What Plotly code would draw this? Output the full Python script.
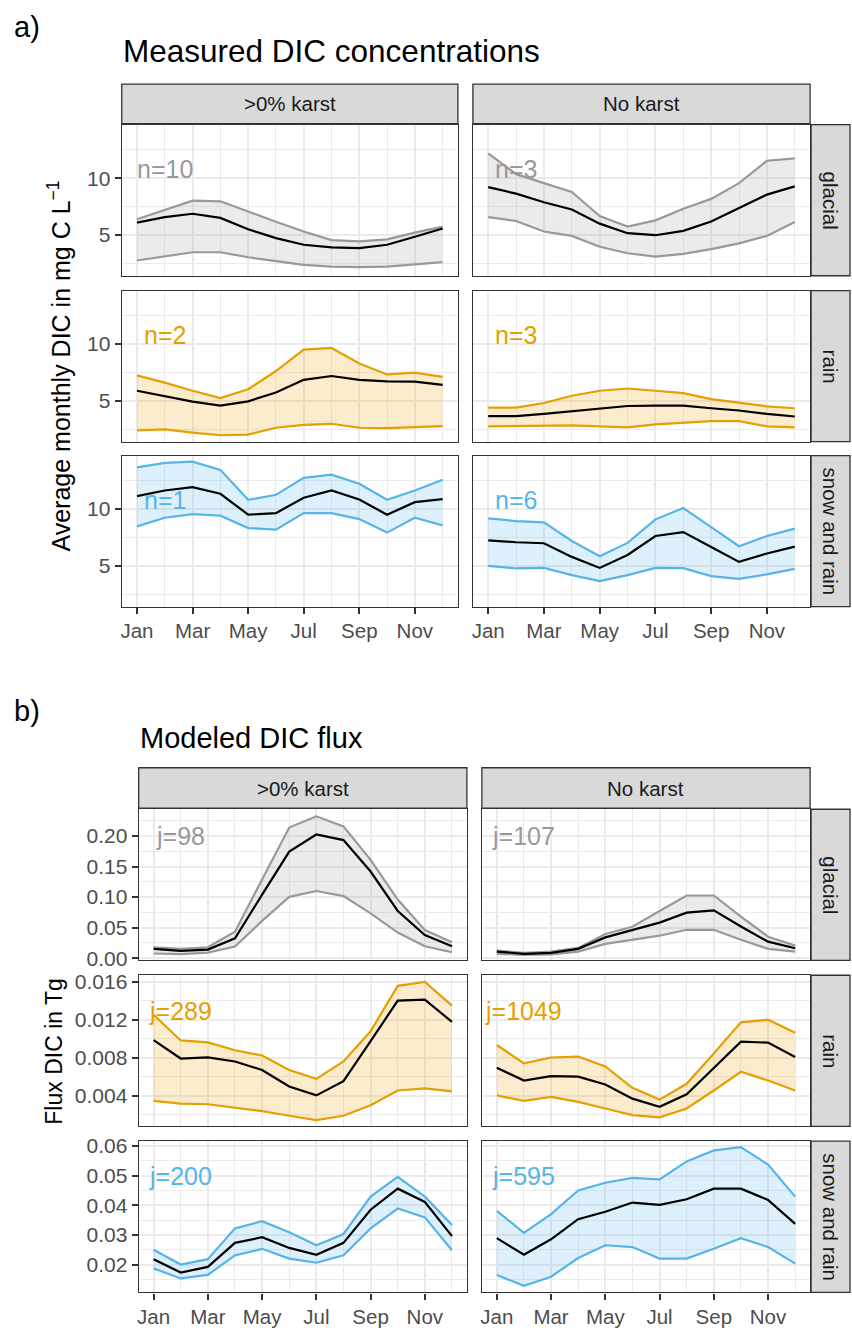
import plotly.graph_objects as go

W, H = 852, 1333
FONT = "Liberation Sans, Arial, sans-serif"
GRID = "#EBEBEB"
BORDER = "#333333"

# ---------------- categories ----------------
months = list(range(1, 13))
month_tick_vals = [1, 3, 5, 7, 9, 11]
month_tick_text = ["Jan", "Mar", "May", "Jul", "Sep", "Nov"]
karst_groups = [">0% karst", "No karst"]
climate_groups = ["glacial", "rain", "snow and rain"]
group_colors = ["#999999", "#E69F00", "#56B4E9"]
group_fills = ["rgba(153,153,153,0.2)", "rgba(230,159,0,0.2)", "rgba(86,180,233,0.2)"]

# ---------------- a) measured DIC concentrations (mg C L-1) ----------------
conc_glacial_karst_upper = [6.37, 7.18, 8.02, 7.96, 7.04, 6.16, 5.30, 4.54, 4.42, 4.60, 5.20, 5.73]
conc_glacial_karst_mean = [6.08, 6.57, 6.86, 6.50, 5.50, 4.71, 4.13, 3.90, 3.84, 4.13, 4.83, 5.56]
conc_glacial_karst_lower = [2.74, 3.08, 3.47, 3.47, 3.03, 2.68, 2.36, 2.21, 2.16, 2.21, 2.39, 2.60]

conc_glacial_nokarst_upper = [12.18, 10.35, 9.56, 8.78, 6.66, 5.73, 6.28, 7.30, 8.17, 9.56, 11.53, 11.74]
conc_glacial_nokarst_mean = [9.21, 8.63, 7.88, 7.24, 5.99, 5.15, 4.97, 5.35, 6.17, 7.39, 8.55, 9.27]
conc_glacial_nokarst_lower = [6.57, 6.22, 5.30, 4.91, 3.95, 3.38, 3.08, 3.32, 3.75, 4.25, 4.91, 6.13]

conc_rain_karst_upper = [7.25, 6.61, 5.89, 5.24, 6.03, 7.63, 9.51, 9.66, 8.29, 7.33, 7.48, 7.11]
conc_rain_karst_mean = [5.89, 5.39, 4.93, 4.58, 4.96, 5.74, 6.85, 7.19, 6.85, 6.72, 6.70, 6.41]
conc_rain_karst_lower = [2.40, 2.49, 2.20, 1.97, 2.02, 2.63, 2.89, 2.98, 2.63, 2.60, 2.69, 2.78]

conc_rain_nokarst_upper = [4.41, 4.41, 4.81, 5.45, 5.89, 6.09, 5.89, 5.68, 5.16, 4.87, 4.52, 4.35]
conc_rain_nokarst_mean = [3.65, 3.65, 3.85, 4.09, 4.32, 4.55, 4.58, 4.58, 4.35, 4.15, 3.85, 3.62]
conc_rain_nokarst_lower = [2.75, 2.78, 2.84, 2.84, 2.75, 2.66, 2.93, 3.07, 3.21, 3.21, 2.75, 2.66]

conc_snow_karst_upper = [13.68, 14.07, 14.18, 13.46, 10.82, 11.26, 12.75, 13.04, 12.23, 10.82, 11.64, 12.58]
conc_snow_karst_mean = [11.14, 11.64, 11.93, 11.35, 9.51, 9.65, 11.00, 11.64, 10.85, 9.51, 10.61, 10.88]
conc_snow_karst_lower = [8.48, 9.24, 9.56, 9.42, 8.33, 8.19, 9.65, 9.65, 9.12, 7.93, 9.24, 8.57]

conc_snow_nokarst_upper = [9.18, 8.95, 8.83, 7.19, 5.85, 7.02, 9.10, 10.09, 8.42, 6.73, 7.63, 8.28]
conc_snow_nokarst_mean = [7.25, 7.08, 6.99, 5.79, 4.82, 5.96, 7.63, 7.98, 6.67, 5.35, 6.09, 6.70]
conc_snow_nokarst_lower = [5.00, 4.77, 4.82, 4.18, 3.66, 4.18, 4.82, 4.80, 4.10, 3.86, 4.25, 4.74]

conc_n_karst = [10, 2, 1]
conc_n_nokarst = [3, 3, 6]

# ---------------- b) modeled DIC flux (Tg) ----------------
flux_glacial_karst_upper = [0.0178, 0.0152, 0.0178, 0.0433, 0.129, 0.214, 0.2324, 0.216, 0.161, 0.096, 0.046, 0.026]
flux_glacial_karst_mean = [0.0152, 0.0120, 0.0140, 0.0324, 0.104, 0.1746, 0.2026, 0.1935, 0.142, 0.0773, 0.038, 0.0195]
flux_glacial_karst_lower = [0.0076, 0.0065, 0.0092, 0.0190, 0.061, 0.1005, 0.110, 0.1016, 0.0735, 0.042, 0.0195, 0.0097]

flux_glacial_nokarst_upper = [0.0125, 0.0087, 0.0108, 0.0168, 0.0395, 0.0514, 0.0773, 0.1027, 0.1027, 0.068, 0.0352, 0.0206]
flux_glacial_nokarst_mean = [0.0108, 0.0071, 0.0087, 0.0152, 0.0340, 0.0465, 0.0583, 0.0746, 0.0784, 0.0519, 0.0270, 0.0162]
flux_glacial_nokarst_lower = [0.0071, 0.0055, 0.0060, 0.0108, 0.0233, 0.0303, 0.0368, 0.0465, 0.0465, 0.0303, 0.0152, 0.0108]

flux_rain_karst_upper = [0.01254, 0.00984, 0.00964, 0.00881, 0.00826, 0.00673, 0.00580, 0.00763, 0.01081, 0.01558, 0.01600, 0.01351]
flux_rain_karst_mean = [0.00988, 0.00794, 0.00805, 0.00763, 0.00673, 0.00500, 0.00406, 0.00556, 0.00977, 0.01403, 0.01413, 0.01179]
flux_rain_karst_lower = [0.00348, 0.00320, 0.00313, 0.00279, 0.00240, 0.00192, 0.00147, 0.00192, 0.00302, 0.00458, 0.00479, 0.00448]

flux_rain_nokarst_upper = [0.00936, 0.00743, 0.00805, 0.00815, 0.00711, 0.00486, 0.00362, 0.00528, 0.00846, 0.01174, 0.01202, 0.01064]
flux_rain_nokarst_mean = [0.00697, 0.00562, 0.00608, 0.00604, 0.00520, 0.00372, 0.00286, 0.00417, 0.00694, 0.00971, 0.00961, 0.00811]
flux_rain_nokarst_lower = [0.00406, 0.00348, 0.00390, 0.00338, 0.00268, 0.00199, 0.00175, 0.00268, 0.00458, 0.00655, 0.00562, 0.00458]

flux_snow_karst_upper = [0.0250, 0.0200, 0.0218, 0.0322, 0.0346, 0.0309, 0.0265, 0.0303, 0.0429, 0.0496, 0.0429, 0.0333]
flux_snow_karst_mean = [0.0218, 0.0173, 0.0192, 0.0273, 0.0292, 0.0256, 0.0233, 0.0273, 0.0385, 0.0456, 0.0411, 0.0296]
flux_snow_karst_lower = [0.0187, 0.0153, 0.0165, 0.0231, 0.0253, 0.0220, 0.0206, 0.0231, 0.0322, 0.0389, 0.0359, 0.0248]

flux_snow_nokarst_upper = [0.0381, 0.0307, 0.0370, 0.0450, 0.0476, 0.0492, 0.0487, 0.0548, 0.0585, 0.0596, 0.0537, 0.0429]
flux_snow_nokarst_mean = [0.0289, 0.0233, 0.0285, 0.0353, 0.0378, 0.0409, 0.0401, 0.0420, 0.0456, 0.0456, 0.0418, 0.0337]
flux_snow_nokarst_lower = [0.0165, 0.0128, 0.0159, 0.0222, 0.0265, 0.0259, 0.0220, 0.0220, 0.0253, 0.0289, 0.0259, 0.0203]

flux_j_karst = [98, 289, 200]
flux_j_nokarst = [107, 1049, 595]

# ---------------- assemble ----------------
conc_data = [
    [(conc_glacial_karst_lower, conc_glacial_karst_mean, conc_glacial_karst_upper),
     (conc_glacial_nokarst_lower, conc_glacial_nokarst_mean, conc_glacial_nokarst_upper)],
    [(conc_rain_karst_lower, conc_rain_karst_mean, conc_rain_karst_upper),
     (conc_rain_nokarst_lower, conc_rain_nokarst_mean, conc_rain_nokarst_upper)],
    [(conc_snow_karst_lower, conc_snow_karst_mean, conc_snow_karst_upper),
     (conc_snow_nokarst_lower, conc_snow_nokarst_mean, conc_snow_nokarst_upper)],
]
flux_data = [
    [(flux_glacial_karst_lower, flux_glacial_karst_mean, flux_glacial_karst_upper),
     (flux_glacial_nokarst_lower, flux_glacial_nokarst_mean, flux_glacial_nokarst_upper)],
    [(flux_rain_karst_lower, flux_rain_karst_mean, flux_rain_karst_upper),
     (flux_rain_nokarst_lower, flux_rain_nokarst_mean, flux_rain_nokarst_upper)],
    [(flux_snow_karst_lower, flux_snow_karst_mean, flux_snow_karst_upper),
     (flux_snow_nokarst_lower, flux_snow_nokarst_mean, flux_snow_nokarst_upper)],
]

sections = [
    dict(
        data=conc_data, counts=[conc_n_karst, conc_n_nokarst], prefix="n=",
        rows=[(119, 272), (287, 440), (454, 607)], cols=[(120, 457), (472, 810)],
        strip=(78, 118),
        yranges=[[1.4, 14.72]] * 3,
        yticks=[[5, 10]] * 3,
        yminor=[[2.5, 7.5, 12.5]] * 3,
        yfmt=["{:g}"] * 3,
        label_y=[10.8, 10.8, 10.8],
        letter="a)", letter_y=20, title="Measured DIC concentrations", title_x=119, title_y=45,
        title_size=31.5,
        ytitle="Average monthly DIC in mg C L<sup>\u22121</sup>", ytitle_x=57, ytitle_size=25,
    ),
    dict(
        data=flux_data, counts=[flux_j_karst, flux_j_nokarst], prefix="j=",
        rows=[(812, 965), (980, 1133), (1148, 1301)], cols=[(137, 466), (481, 810)],
        strip=(770, 811),
        yranges=[[-0.0037, 0.244], [0.0008, 0.0167], [0.0106, 0.0616]],
        yticks=[[0, 0.05, 0.10, 0.15, 0.20], [0.004, 0.008, 0.012, 0.016], [0.02, 0.03, 0.04, 0.05, 0.06]],
        yminor=[[0.025, 0.075, 0.125, 0.175, 0.225], [0.002, 0.006, 0.010, 0.014], [0.015, 0.025, 0.035, 0.045, 0.055]],
        yfmt=["{:.2f}", "{:.3f}", "{:.2f}"],
        label_y=[0.2, 0.0129, 0.05],
        letter="b)", letter_y=713, title="Modeled DIC flux", title_x=136, title_y=740,
        title_size=29,
        ytitle="Flux DIC in Tg", ytitle_x=52, ytitle_size=23,
    ),
]


def xdom(a, b):
    return [a / W, b / W]


def ydom(top, bottom):
    return [1 - bottom / H, 1 - top / H]


fig = go.Figure()
layout = dict(
    width=W, height=H, margin=dict(l=0, r=0, t=0, b=0),
    paper_bgcolor="white", plot_bgcolor="white", showlegend=False,
    font=dict(family=FONT, color="#4D4D4D"),
)
annotations = []
shapes = []

for s_i, sec in enumerate(sections):
    for r in range(3):
        for c in range(2):
            k = s_i * 6 + r * 2 + c + 1
            sfx = "" if k == 1 else str(k)
            xref, yref = "x" + sfx, "y" + sfx
            bottom_row = r == 2
            left_col = c == 0
            layout["xaxis" + sfx] = dict(
                domain=xdom(*sec["cols"][c]), anchor=yref, range=[0.45, 12.55],
                tickmode="array", tickvals=month_tick_vals, ticktext=month_tick_text,
                showticklabels=bottom_row, ticks="outside" if bottom_row else "",
                ticklen=6, tickwidth=1.5, tickcolor=BORDER,
                tickfont=dict(size=20.5, color="#4D4D4D", family=FONT),
                showgrid=True, gridcolor=GRID, gridwidth=2,
                minor=dict(tickmode="array", tickvals=[2, 4, 6, 8, 10, 12], showgrid=True,
                           gridcolor=GRID, gridwidth=1, ticks=""),
                showline=True, mirror=True, linecolor=BORDER, linewidth=1.3,
                zeroline=False, fixedrange=True,
            )
            yt = sec["yticks"][r]
            layout["yaxis" + sfx] = dict(
                domain=ydom(*sec["rows"][r]), anchor=xref, range=sec["yranges"][r],
                tickmode="array", tickvals=yt, ticktext=[sec["yfmt"][r].format(v) for v in yt],
                showticklabels=left_col, ticks="outside" if left_col else "",
                ticklen=6, tickwidth=1.5, tickcolor=BORDER,
                tickfont=dict(size=21, color="#4D4D4D", family=FONT),
                showgrid=True, gridcolor=GRID, gridwidth=2,
                minor=dict(tickmode="array", tickvals=sec["yminor"][r], showgrid=True,
                           gridcolor=GRID, gridwidth=1, ticks=""),
                showline=True, mirror=True, linecolor=BORDER, linewidth=1.3,
                zeroline=False, fixedrange=True,
            )
            lower, mean, upper = sec["data"][r][c]
            col = group_colors[r]
            fig.add_trace(go.Scatter(
                x=months + months[::-1], y=upper + lower[::-1], fill="toself",
                fillcolor=group_fills[r], line=dict(width=0), mode="lines",
                xaxis=xref, yaxis=yref, hoverinfo="skip"))
            for series, lc in ((upper, col), (lower, col), (mean, "#000000")):
                fig.add_trace(go.Scatter(
                    x=months, y=series, mode="lines", line=dict(color=lc, width=2.2),
                    xaxis=xref, yaxis=yref, hoverinfo="skip"))
            annotations.append(dict(
                x=2, y=sec["label_y"][r], xref=xref, yref=yref,
                text=f"{sec['prefix']}{sec['counts'][c][r]}", showarrow=False,
                xanchor="center", yanchor="middle",
                font=dict(size=25, color=col, family=FONT)))

    # column strips
    for c in range(2):
        x0, x1 = sec["cols"][c]
        y0, y1 = sec["strip"]
        shapes.append(dict(type="rect", xref="paper", yref="paper",
                           x0=x0 / W, x1=x1 / W, y0=1 - y1 / H, y1=1 - y0 / H,
                           fillcolor="#D9D9D9", line=dict(color=BORDER, width=1.3), layer="below"))
        annotations.append(dict(x=(x0 + x1) / 2 / W, y=1 - (y0 + y1) / 2 / H, xref="paper", yref="paper",
                                text=karst_groups[c], showarrow=False, xanchor="center", yanchor="middle",
                                font=dict(size=20.5, color="#1A1A1A", family=FONT)))
    # row strips
    for r in range(3):
        top, bot = sec["rows"][r]
        shapes.append(dict(type="rect", xref="paper", yref="paper",
                           x0=811 / W, x1=850 / W, y0=1 - bot / H, y1=1 - top / H,
                           fillcolor="#D9D9D9", line=dict(color=BORDER, width=1.3), layer="below"))
        annotations.append(dict(x=830.5 / W, y=1 - (top + bot) / 2 / H, xref="paper", yref="paper",
                                text=climate_groups[r], showarrow=False, textangle=90,
                                xanchor="center", yanchor="middle",
                                font=dict(size=20.5, color="#1A1A1A", family=FONT)))
    # letter, title, y-axis title
    annotations.append(dict(x=10 / W, y=1 - sec["letter_y"] / H, xref="paper", yref="paper",
                            text=sec["letter"], showarrow=False, xanchor="left", yanchor="middle",
                            font=dict(size=29, color="#000000", family=FONT)))
    annotations.append(dict(x=sec["title_x"] / W, y=1 - sec["title_y"] / H, xref="paper", yref="paper",
                            text=sec["title"], showarrow=False, xanchor="left", yanchor="middle",
                            font=dict(size=sec["title_size"], color="#000000", family=FONT)))
    ymid = (sec["rows"][0][0] + sec["rows"][2][1]) / 2
    annotations.append(dict(x=sec["ytitle_x"] / W, y=1 - ymid / H, xref="paper", yref="paper",
                            text=sec["ytitle"], showarrow=False, textangle=-90,
                            xanchor="center", yanchor="middle",
                            font=dict(size=sec["ytitle_size"], color="#000000", family=FONT)))

layout["annotations"] = annotations
layout["shapes"] = shapes
fig.update_layout(**layout)
fig.write_html("out.html")
